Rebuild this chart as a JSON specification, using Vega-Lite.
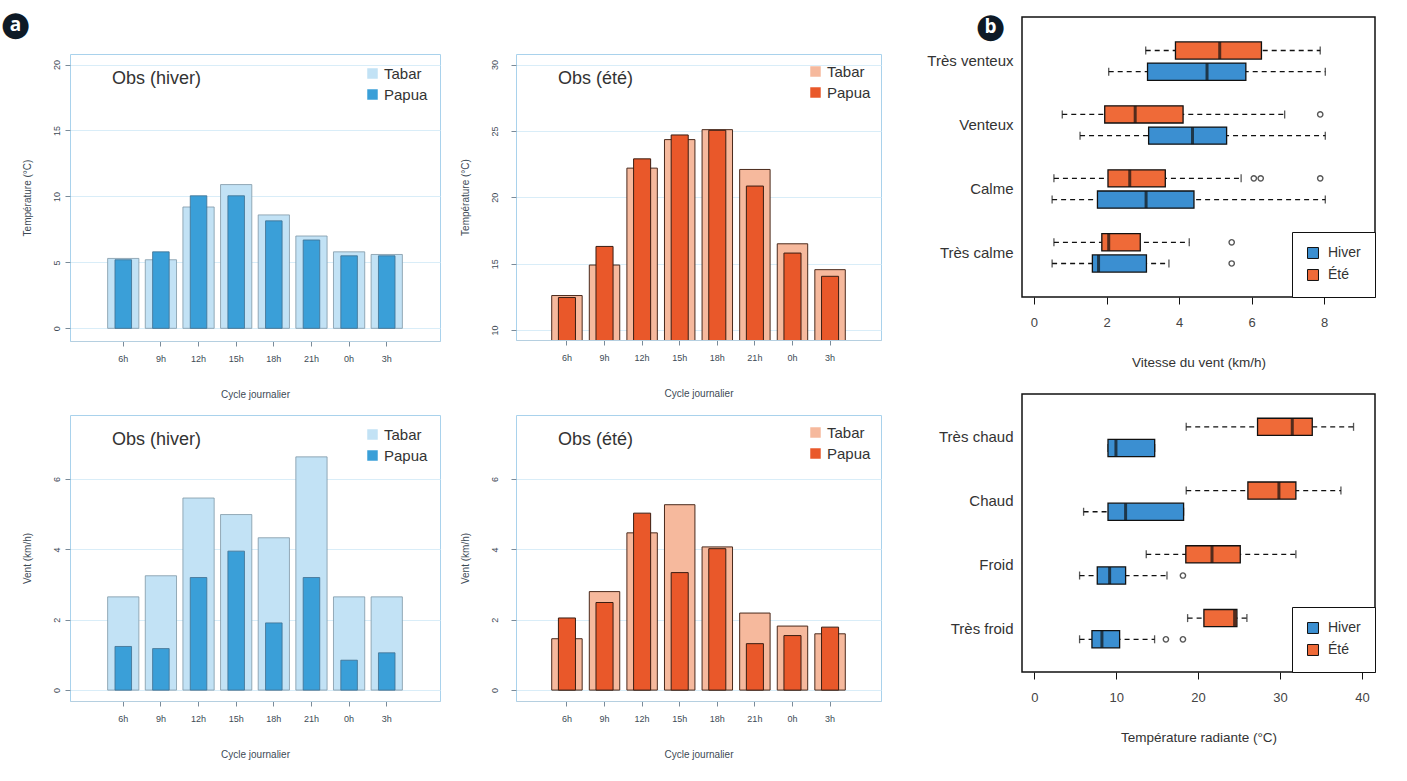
{
  "$schema": "https://vega.github.io/schema/vega-lite/v6.json",
  "background": "white",
  "padding": {"left": 0, "top": 8, "right": 5, "bottom": 5},
  "config": {
    "font": "Liberation Sans",
    "axis": {"titleFontWeight": "normal", "labelFontSize": 9, "titleFontSize": 10, "labelColor": "#3d4a55", "titleColor": "#3d4a55", "tickColor": "#7a8b99", "domainColor": "#b5cfe0", "grid": false},
    "title": {"fontWeight": "normal", "fontSize": 18, "color": "#333", "anchor": "start", "frame": "group", "offset": -34, "dx": 42}
  },
  "spacing": 44,
  "resolve": {"scale": {"color": "independent", "x": "independent", "y": "independent"}, "legend": {"color": "independent"}},
  "hconcat": [
    {
      "spacing": 11,
      "resolve": {"scale": {"color": "independent", "x": "independent", "y": "independent"}, "legend": {"color": "independent"}},
      "vconcat": [
        {
          "width": 1, "height": 22,
          "view": {"stroke": null},
          "data": {"values": [{"t": "a"}]},
          "layer": [
            {"mark": {"type": "text", "text": "●", "font": "DejaVu Sans", "fontSize": 34, "color": "#0e1a26", "dx": -55, "dy": -3, "baseline": "middle"}, "encoding": {}},
            {"mark": {"type": "text", "font": "Open Sans", "fontSize": 19, "fontWeight": "bold", "color": "white", "dx": -55, "dy": -3, "baseline": "middle"}, "encoding": {"text": {"field": "t"}}}
          ]
        },
        {
          "columns": 2,
          "spacing": {"row": 14, "column": 18},
          "resolve": {"scale": {"color": "independent", "x": "independent", "y": "independent"}, "legend": {"color": "independent"}},
          "concat": [
            {
              "width": 370, "height": 287,
              "view": {"stroke": "#a9d2ec", "strokeWidth": 1},
              "title": {"text": "Obs (hiver)"},
              "data": {"values": [
                {"h": "6h", "source": "Tabar", "v": 5.3}, {"h": "6h", "source": "Papua", "v": 5.2},
                {"h": "9h", "source": "Tabar", "v": 5.2}, {"h": "9h", "source": "Papua", "v": 5.8},
                {"h": "12h", "source": "Tabar", "v": 9.2}, {"h": "12h", "source": "Papua", "v": 10.05},
                {"h": "15h", "source": "Tabar", "v": 10.9}, {"h": "15h", "source": "Papua", "v": 10.05},
                {"h": "18h", "source": "Tabar", "v": 8.6}, {"h": "18h", "source": "Papua", "v": 8.15},
                {"h": "21h", "source": "Tabar", "v": 7.0}, {"h": "21h", "source": "Papua", "v": 6.7},
                {"h": "0h", "source": "Tabar", "v": 5.8}, {"h": "0h", "source": "Papua", "v": 5.5},
                {"h": "3h", "source": "Tabar", "v": 5.6}, {"h": "3h", "source": "Papua", "v": 5.5}
              ]},
              "encoding": {
                "x": {"field": "h", "type": "nominal", "scale": {"domain": ["6h","9h","12h","15h","18h","21h","0h","3h"], "paddingInner": 0.17, "paddingOuter": 1.05}, "axis": {"title": "Cycle journalier", "labelAngle": 0, "tickSize": 5, "labelPadding": 8, "titlePadding": 26}},
                "y": {"field": "v", "type": "quantitative", "scale": {"domain": [-0.96, 20.8], "nice": false}, "axis": {"title": "Température (°C)", "values": [0, 5, 10, 15, 20], "labelAngle": -90, "tickSize": 5, "labelPadding": 4, "titlePadding": 20, "domain": false, "grid": true, "gridColor": "#d9edf8"}},
                "color": {"field": "source", "type": "nominal", "scale": {"domain": ["Tabar", "Papua"], "range": ["#c2e2f5", "#3a9fd8"]}, "legend": {"orient": "top-right", "title": null, "offset": 12, "labelFontSize": 15, "labelColor": "#333", "symbolType": "square", "symbolSize": 110, "rowPadding": 5, "symbolStrokeWidth": 0}}
              },
              "layer": [
                {"transform": [{"filter": "datum.source === 'Tabar'"}], "mark": {"type": "bar", "stroke": "#7f97a6", "strokeWidth": 0.8}},
                {"transform": [{"filter": "datum.source === 'Papua'"}], "mark": {"type": "bar", "width": {"band": 0.53}, "stroke": "#3f6f8f", "strokeWidth": 0.8}}
              ]
            },
            {
              "width": 365, "height": 286,
              "view": {"stroke": "#a9d2ec", "strokeWidth": 1},
              "title": {"text": "Obs (été)"},
              "data": {"values": [
                {"h": "6h", "source": "Tabar", "v": 12.6}, {"h": "6h", "source": "Papua", "v": 12.45},
                {"h": "9h", "source": "Tabar", "v": 14.9}, {"h": "9h", "source": "Papua", "v": 16.3},
                {"h": "12h", "source": "Tabar", "v": 22.2}, {"h": "12h", "source": "Papua", "v": 22.9},
                {"h": "15h", "source": "Tabar", "v": 24.35}, {"h": "15h", "source": "Papua", "v": 24.7},
                {"h": "18h", "source": "Tabar", "v": 25.1}, {"h": "18h", "source": "Papua", "v": 25.05},
                {"h": "21h", "source": "Tabar", "v": 22.1}, {"h": "21h", "source": "Papua", "v": 20.85},
                {"h": "0h", "source": "Tabar", "v": 16.5}, {"h": "0h", "source": "Papua", "v": 15.8},
                {"h": "3h", "source": "Tabar", "v": 14.55}, {"h": "3h", "source": "Papua", "v": 14.05}
              ]},
              "encoding": {
                "x": {"field": "h", "type": "nominal", "scale": {"domain": ["6h","9h","12h","15h","18h","21h","0h","3h"], "paddingInner": 0.19, "paddingOuter": 0.95}, "axis": {"title": "Cycle journalier", "labelAngle": 0, "tickSize": 5, "labelPadding": 8, "titlePadding": 26}},
                "y": {"field": "v", "type": "quantitative", "scale": {"domain": [9.25, 30.8], "nice": false, "zero": false}, "axis": {"title": "Température (°C)", "values": [10, 15, 20, 25, 30], "labelAngle": -90, "tickSize": 5, "labelPadding": 12, "titlePadding": 20, "domain": false, "grid": true, "gridColor": "#d9edf8"}},
                "color": {"field": "source", "type": "nominal", "scale": {"domain": ["Tabar", "Papua"], "range": ["#f6b99d", "#e9582a"]}, "legend": {"orient": "top-right", "title": null, "offset": 10, "labelFontSize": 15, "labelColor": "#333", "symbolType": "square", "symbolSize": 110, "rowPadding": 5, "symbolStrokeWidth": 0}}
              },
              "layer": [
                {"transform": [{"filter": "datum.source === 'Tabar'"}], "mark": {"type": "bar", "clip": true, "stroke": "#4a2a1c", "strokeWidth": 1}},
                {"transform": [{"filter": "datum.source === 'Papua'"}], "mark": {"type": "bar", "clip": true, "width": {"band": 0.56}, "stroke": "#3a1d12", "strokeWidth": 1}}
              ]
            },
            {
              "width": 370, "height": 286,
              "view": {"stroke": "#a9d2ec", "strokeWidth": 1},
              "title": {"text": "Obs (hiver)"},
              "data": {"values": [
                {"h": "6h", "source": "Tabar", "v": 2.65}, {"h": "6h", "source": "Papua", "v": 1.24},
                {"h": "9h", "source": "Tabar", "v": 3.25}, {"h": "9h", "source": "Papua", "v": 1.18},
                {"h": "12h", "source": "Tabar", "v": 5.46}, {"h": "12h", "source": "Papua", "v": 3.2},
                {"h": "15h", "source": "Tabar", "v": 4.99}, {"h": "15h", "source": "Papua", "v": 3.95},
                {"h": "18h", "source": "Tabar", "v": 4.33}, {"h": "18h", "source": "Papua", "v": 1.91},
                {"h": "21h", "source": "Tabar", "v": 6.63}, {"h": "21h", "source": "Papua", "v": 3.2},
                {"h": "0h", "source": "Tabar", "v": 2.65}, {"h": "0h", "source": "Papua", "v": 0.85},
                {"h": "3h", "source": "Tabar", "v": 2.65}, {"h": "3h", "source": "Papua", "v": 1.06}
              ]},
              "encoding": {
                "x": {"field": "h", "type": "nominal", "scale": {"domain": ["6h","9h","12h","15h","18h","21h","0h","3h"], "paddingInner": 0.17, "paddingOuter": 1.05}, "axis": {"title": "Cycle journalier", "labelAngle": 0, "tickSize": 5, "labelPadding": 8, "titlePadding": 26}},
                "y": {"field": "v", "type": "quantitative", "scale": {"domain": [-0.31, 7.82], "nice": false}, "axis": {"title": "Vent (km/h)", "values": [0, 2, 4, 6], "labelAngle": -90, "tickSize": 5, "labelPadding": 4, "titlePadding": 20, "domain": false, "grid": true, "gridColor": "#d9edf8"}},
                "color": {"field": "source", "type": "nominal", "scale": {"domain": ["Tabar", "Papua"], "range": ["#c2e2f5", "#3a9fd8"]}, "legend": {"orient": "top-right", "title": null, "offset": 12, "labelFontSize": 15, "labelColor": "#333", "symbolType": "square", "symbolSize": 110, "rowPadding": 5, "symbolStrokeWidth": 0}}
              },
              "layer": [
                {"transform": [{"filter": "datum.source === 'Tabar'"}], "mark": {"type": "bar", "stroke": "#7f97a6", "strokeWidth": 0.8}},
                {"transform": [{"filter": "datum.source === 'Papua'"}], "mark": {"type": "bar", "width": {"band": 0.53}, "stroke": "#3f6f8f", "strokeWidth": 0.8}}
              ]
            },
            {
              "width": 365, "height": 286,
              "view": {"stroke": "#a9d2ec", "strokeWidth": 1},
              "title": {"text": "Obs (été)"},
              "data": {"values": [
                {"h": "6h", "source": "Tabar", "v": 1.46}, {"h": "6h", "source": "Papua", "v": 2.05},
                {"h": "9h", "source": "Tabar", "v": 2.8}, {"h": "9h", "source": "Papua", "v": 2.49},
                {"h": "12h", "source": "Tabar", "v": 4.47}, {"h": "12h", "source": "Papua", "v": 5.03},
                {"h": "15h", "source": "Tabar", "v": 5.27}, {"h": "15h", "source": "Papua", "v": 3.34},
                {"h": "18h", "source": "Tabar", "v": 4.07}, {"h": "18h", "source": "Papua", "v": 4.02},
                {"h": "21h", "source": "Tabar", "v": 2.19}, {"h": "21h", "source": "Papua", "v": 1.32},
                {"h": "0h", "source": "Tabar", "v": 1.82}, {"h": "0h", "source": "Papua", "v": 1.55},
                {"h": "3h", "source": "Tabar", "v": 1.6}, {"h": "3h", "source": "Papua", "v": 1.79}
              ]},
              "encoding": {
                "x": {"field": "h", "type": "nominal", "scale": {"domain": ["6h","9h","12h","15h","18h","21h","0h","3h"], "paddingInner": 0.19, "paddingOuter": 0.95}, "axis": {"title": "Cycle journalier", "labelAngle": 0, "tickSize": 5, "labelPadding": 8, "titlePadding": 26}},
                "y": {"field": "v", "type": "quantitative", "scale": {"domain": [-0.31, 7.82], "nice": false}, "axis": {"title": "Vent (km/h)", "values": [0, 2, 4, 6], "labelAngle": -90, "tickSize": 5, "labelPadding": 12, "titlePadding": 20, "domain": false, "grid": true, "gridColor": "#d9edf8"}},
                "color": {"field": "source", "type": "nominal", "scale": {"domain": ["Tabar", "Papua"], "range": ["#f6b99d", "#e9582a"]}, "legend": {"orient": "top-right", "title": null, "offset": 10, "labelFontSize": 15, "labelColor": "#333", "symbolType": "square", "symbolSize": 110, "rowPadding": 5, "symbolStrokeWidth": 0}}
              },
              "layer": [
                {"transform": [{"filter": "datum.source === 'Tabar'"}], "mark": {"type": "bar", "stroke": "#4a2a1c", "strokeWidth": 1}},
                {"transform": [{"filter": "datum.source === 'Papua'"}], "mark": {"type": "bar", "width": {"band": 0.56}, "stroke": "#3a1d12", "strokeWidth": 1}}
              ]
            }
          ]
        }
      ]
    },
    {
      "spacing": 23,
      "resolve": {"scale": {"color": "independent", "x": "independent", "y": "independent"}, "legend": {"color": "independent"}},
      "vconcat": [
        {
          "width": 353, "height": 280,
          "view": {"stroke": "#111", "strokeWidth": 1.5},
          "layer": [
            {
              "data": {"values": [
                {"cat": "Très venteux", "saison": "Été", "lo": 3.08, "q1": 3.9, "med": 5.12, "q3": 6.27, "hi": 7.89},
                {"cat": "Très venteux", "saison": "Hiver", "lo": 2.06, "q1": 3.13, "med": 4.77, "q3": 5.84, "hi": 8.03},
                {"cat": "Venteux", "saison": "Été", "lo": 0.78, "q1": 1.95, "med": 2.79, "q3": 4.11, "hi": 6.91},
                {"cat": "Venteux", "saison": "Hiver", "lo": 1.27, "q1": 3.16, "med": 4.37, "q3": 5.31, "hi": 8.03},
                {"cat": "Calme", "saison": "Été", "lo": 0.55, "q1": 2.04, "med": 2.64, "q3": 3.62, "hi": 5.71},
                {"cat": "Calme", "saison": "Hiver", "lo": 0.5, "q1": 1.75, "med": 3.09, "q3": 4.41, "hi": 8.03},
                {"cat": "Très calme", "saison": "Été", "lo": 0.55, "q1": 1.87, "med": 2.06, "q3": 2.93, "hi": 4.28},
                {"cat": "Très calme", "saison": "Hiver", "lo": 0.5, "q1": 1.61, "med": 1.78, "q3": 3.1, "hi": 3.72}
              ]},
              "encoding": {
                "y": {"field": "cat", "type": "nominal", "scale": {"domain": ["Très venteux", "Venteux", "Calme", "Très calme"], "paddingInner": 0.4, "paddingOuter": 0.39}, "axis": {"title": null, "ticks": false, "domain": false, "labelFontSize": 15, "labelColor": "#333", "labelPadding": 9}},
                "yOffset": {"field": "saison", "type": "nominal", "scale": {"domain": ["Été", "Hiver"], "paddingInner": 0.19}}
              },
              "layer": [
                {"mark": {"type": "rule", "strokeDash": [5, 4], "strokeWidth": 1.3, "color": "#111"},
                 "encoding": {"x": {"field": "lo", "type": "quantitative", "scale": {"domain": [-0.33, 9.4], "nice": false, "zero": false},
                    "axis": {"title": "Vitesse du vent (km/h)", "values": [0, 2, 4, 6, 8], "domain": false, "tickSize": 7, "tickColor": "#111", "labelFontSize": 13, "labelColor": "#444", "labelPadding": 12, "titleFontSize": 13.5, "titleColor": "#333", "titlePadding": 26}},
                    "x2": {"field": "hi"}}},
                {"mark": {"type": "tick", "orient": "vertical", "size": 8, "thickness": 1.3, "color": "#111"}, "encoding": {"x": {"field": "lo", "type": "quantitative"}}},
                {"mark": {"type": "tick", "orient": "vertical", "size": 8, "thickness": 1.3, "color": "#111"}, "encoding": {"x": {"field": "hi", "type": "quantitative"}}},
                {"mark": {"type": "bar", "stroke": "#111", "strokeWidth": 1.3},
                 "encoding": {"x": {"field": "q1", "type": "quantitative"}, "x2": {"field": "q3"},
                   "color": {"field": "saison", "type": "nominal", "scale": {"domain": ["Hiver", "Été"], "range": ["#3b8fd1", "#ef6a38"]},
                     "legend": {"orient": "bottom-right", "title": null, "offset": 0, "strokeColor": "#111", "fillColor": "white", "padding": 14, "labelFontSize": 14, "labelOffset": 8, "labelColor": "#333", "symbolType": "square", "symbolSize": 120, "symbolStrokeColor": "#111", "symbolStrokeWidth": 1, "rowPadding": 6}}}},
                {"mark": {"type": "tick", "orient": "vertical", "size": 17, "thickness": 3, "color": "#111"}, "encoding": {"x": {"field": "med", "type": "quantitative"}}},
                {"data": {"values": [
                  {"cat": "Venteux", "saison": "Été", "v": 7.89},
                  {"cat": "Calme", "saison": "Été", "v": 6.06},
                  {"cat": "Calme", "saison": "Été", "v": 6.25},
                  {"cat": "Calme", "saison": "Été", "v": 7.89},
                  {"cat": "Très calme", "saison": "Été", "v": 5.45},
                  {"cat": "Très calme", "saison": "Hiver", "v": 5.45}
                ]}, "mark": {"type": "point", "filled": false, "size": 28, "strokeWidth": 1.4, "color": "#111"}, "encoding": {"x": {"field": "v", "type": "quantitative"}}}
              ]
            },
            {
              "data": {"values": [{"t": "b"}]},
              "layer": [
                {"mark": {"type": "text", "text": "●", "font": "DejaVu Sans", "fontSize": 34, "color": "#0e1a26", "dx": -208, "dy": -130, "baseline": "middle"}, "encoding": {}},
                {"mark": {"type": "text", "font": "Open Sans", "fontSize": 19, "fontWeight": "bold", "color": "white", "dx": -208, "dy": -130, "baseline": "middle"}, "encoding": {"text": {"field": "t"}}}
              ]
            }
          ]
        },
        {
          "width": 353, "height": 278,
          "view": {"stroke": "#111", "strokeWidth": 1.5},
          "data": {"values": [
            {"cat": "Très chaud", "saison": "Été", "lo": 18.55, "q1": 27.26, "med": 31.5, "q3": 33.94, "hi": 38.98},
            {"cat": "Très chaud", "saison": "Hiver", "lo": 9.0, "q1": 9.0, "med": 9.97, "q3": 14.7, "hi": 14.7},
            {"cat": "Chaud", "saison": "Été", "lo": 18.55, "q1": 26.08, "med": 29.87, "q3": 31.94, "hi": 37.44},
            {"cat": "Chaud", "saison": "Hiver", "lo": 6.02, "q1": 9.0, "med": 11.15, "q3": 18.23, "hi": 18.23},
            {"cat": "Froid", "saison": "Été", "lo": 13.67, "q1": 18.5, "med": 21.7, "q3": 25.15, "hi": 31.94},
            {"cat": "Froid", "saison": "Hiver", "lo": 5.53, "q1": 7.69, "med": 9.2, "q3": 11.15, "hi": 16.2},
            {"cat": "Très froid", "saison": "Été", "lo": 18.72, "q1": 20.71, "med": 24.46, "q3": 24.74, "hi": 25.96},
            {"cat": "Très froid", "saison": "Hiver", "lo": 5.53, "q1": 7.04, "med": 8.26, "q3": 10.42, "hi": 14.69}
          ]},
          "encoding": {
            "y": {"field": "cat", "type": "nominal", "scale": {"domain": ["Très chaud", "Chaud", "Froid", "Très froid"], "paddingInner": 0.4, "paddingOuter": 0.38}, "axis": {"title": null, "ticks": false, "domain": false, "labelFontSize": 15, "labelColor": "#333", "labelPadding": 9}},
            "yOffset": {"field": "saison", "type": "nominal", "scale": {"domain": ["Été", "Hiver"], "paddingInner": 0.19}}
          },
          "layer": [
            {"mark": {"type": "rule", "strokeDash": [5, 4], "strokeWidth": 1.3, "color": "#111"},
             "encoding": {"x": {"field": "lo", "type": "quantitative", "scale": {"domain": [-1.5, 41.6], "nice": false, "zero": false},
                "axis": {"title": "Température radiante (°C)", "values": [0, 10, 20, 30, 40], "domain": false, "tickSize": 7, "tickColor": "#111", "labelFontSize": 13, "labelColor": "#444", "labelPadding": 12, "titleFontSize": 13.5, "titleColor": "#333", "titlePadding": 26}},
                "x2": {"field": "hi"}}},
            {"mark": {"type": "tick", "orient": "vertical", "size": 8, "thickness": 1.3, "color": "#111"}, "encoding": {"x": {"field": "lo", "type": "quantitative"}}},
            {"mark": {"type": "tick", "orient": "vertical", "size": 8, "thickness": 1.3, "color": "#111"}, "encoding": {"x": {"field": "hi", "type": "quantitative"}}},
            {"mark": {"type": "bar", "stroke": "#111", "strokeWidth": 1.3},
             "encoding": {"x": {"field": "q1", "type": "quantitative"}, "x2": {"field": "q3"},
               "color": {"field": "saison", "type": "nominal", "scale": {"domain": ["Hiver", "Été"], "range": ["#3b8fd1", "#ef6a38"]},
                 "legend": {"orient": "bottom-right", "title": null, "offset": 0, "strokeColor": "#111", "fillColor": "white", "padding": 14, "labelFontSize": 14, "labelOffset": 8, "labelColor": "#333", "symbolType": "square", "symbolSize": 120, "symbolStrokeColor": "#111", "symbolStrokeWidth": 1, "rowPadding": 6}}}},
            {"mark": {"type": "tick", "orient": "vertical", "size": 17, "thickness": 3, "color": "#111"}, "encoding": {"x": {"field": "med", "type": "quantitative"}}},
            {"data": {"values": [
              {"cat": "Froid", "saison": "Hiver", "v": 18.15},
              {"cat": "Très froid", "saison": "Hiver", "v": 16.07},
              {"cat": "Très froid", "saison": "Hiver", "v": 18.15}
            ]}, "mark": {"type": "point", "filled": false, "size": 28, "strokeWidth": 1.4, "color": "#111"}, "encoding": {"x": {"field": "v", "type": "quantitative"}}}
          ]
        }
      ]
    }
  ]
}
